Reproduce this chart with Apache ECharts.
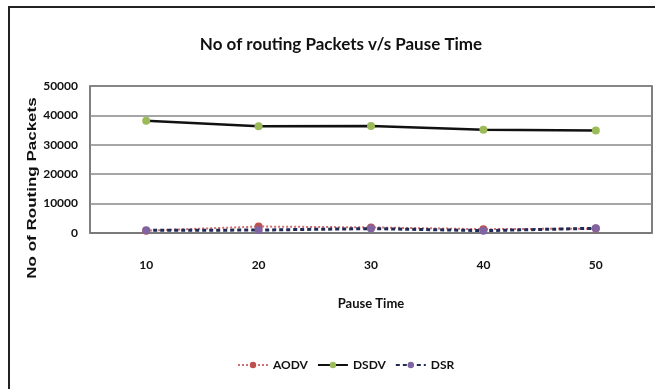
<!DOCTYPE html>
<html>
<head>
<meta charset="utf-8">
<script src="https://cdn.jsdelivr.net/npm/echarts@6/dist/echarts.min.js"></script>
<style>
  html, body { margin: 0; padding: 0; background: #fff; overflow: hidden; }
  #frame {
    position: absolute; left: 8px; top: 6px; width: 700px; height: 450px;
    border-left: 2px solid #222; border-top: 2px solid #222;
  }
  #chart { position: absolute; left: 0; top: 0; width: 655px; height: 389px; }
</style>
</head>
<body>
<div id="frame"></div>
<div id="chart"></div>
<script>
const pauseTimes = ["10", "20", "30", "40", "50"];
const aodv = [800, 2200, 1900, 1300, 1500];
const dsdv = [38200, 36300, 36400, 35100, 34900];
const dsr = [900, 1000, 1500, 800, 1600];
const yTicks = [0, 10000, 20000, 30000, 40000, 50000];

const face = "Lato, 'Open Sans', sans-serif";

const chart = echarts.init(document.getElementById("chart"));

chart.setOption({
  animation: false,
  title: {
    text: "No of routing Packets v/s Pause Time",
    left: 336,
    textAlign: "center",
    top: 31,
    textStyle: { fontFamily: face, fontSize: 17, fontWeight: "bold", color: "#111" }
  },
  graphic: [{
    type: "text",
    x: 32,
    y: 188,
    rotation: Math.PI / 2,
    scaleY: 0.75,
    style: {
      text: "No of Routing Packets",
      font: "bold 17px 'Liberation Sans', Arial, sans-serif",
      fill: "#111",
      align: "center",
      verticalAlign: "middle"
    }
  }],
  legend: {
    bottom: 13,
    left: 232,
    itemGap: 9,
    itemWidth: 30,
    itemHeight: 8,
    textStyle: { fontFamily: face, fontSize: 12, fontWeight: "bold", color: "#111" },
    data: ["AODV", "DSDV", "DSR"]
  },
  grid: {
    left: 90, right: 3, top: 86, bottom: 156,
    show: true, borderColor: "#555", borderWidth: 1.5
  },
  xAxis: {
    type: "category",
    data: pauseTimes,
    boundaryGap: true,
    name: "Pause Time",
    nameLocation: "middle",
    nameGap: 64,
    nameTextStyle: { fontFamily: face, fontSize: 13, fontWeight: "bold", color: "#111" },
    axisLine: { lineStyle: { color: "#777", width: 1.5 } },
    axisTick: { show: false },
    axisLabel: { margin: 26, fontFamily: face, fontSize: 12, fontWeight: "bold", color: "#111" }
  },
  yAxis: {
    type: "value",
    min: yTicks[0],
    max: yTicks[yTicks.length - 1],
    interval: yTicks[1] - yTicks[0],
    axisLine: { show: false },
    axisTick: { show: false },
    axisLabel: {
      margin: 12, fontFamily: face, fontSize: 12, fontWeight: "bold", color: "#111",
      formatter: v => String(v)
    },
    splitLine: { lineStyle: { color: "#888", width: 1.5 } }
  },
  series: [
    {
      name: "AODV", type: "line", data: aodv,
      symbol: "circle", symbolSize: 8,
      itemStyle: { color: "#c0504d" },
      lineStyle: { color: "#d07070", type: "dotted", width: 2 }
    },
    {
      name: "DSDV", type: "line", data: dsdv,
      symbol: "circle", symbolSize: 8,
      itemStyle: { color: "#9bbb59" },
      lineStyle: { color: "#111", width: 2.5 }
    },
    {
      name: "DSR", type: "line", data: dsr,
      symbol: "circle", symbolSize: 8,
      itemStyle: { color: "#8064a2" },
      lineStyle: { color: "#1f2a55", type: [4, 3], width: 3 }
    }
  ]
});
</script>
</body>
</html>
